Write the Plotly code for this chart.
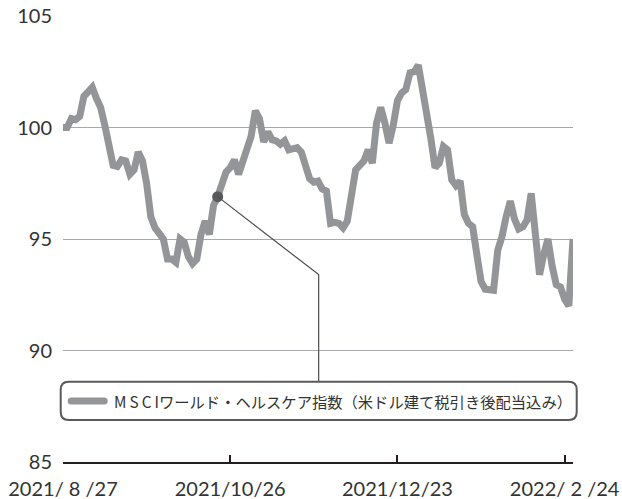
import pandas as pd
import plotly.graph_objects as go

# ---- data -------------------------------------------------------------
start_date = "2021-08-27"
end_date = "2022-02-28"
jp_holidays = ["2021-09-20", "2021-09-23", "2021-11-03", "2021-11-23",
               "2021-12-31", "2022-01-03", "2022-01-10", "2022-02-11",
               "2022-02-23"]

index_values = [
    100.0, 100.0, 100.4, 100.35, 100.5, 101.4, 101.6, 101.8, 101.3, 100.9,
    100.1, 99.2, 98.3, 98.25, 98.55, 98.5, 97.9, 98.1, 98.9, 98.5,
    97.5, 96.0, 95.5, 95.25, 95.0, 94.1, 94.1, 93.95, 95.0, 94.85,
    94.2, 93.9, 94.1, 95.2, 95.8, 95.2, 96.5, 96.9, 97.6, 98.0,
    98.2, 98.55, 97.9, 98.4, 99.0, 99.6, 100.75, 100.4, 99.35, 99.8,
    99.45, 99.4, 99.25, 99.4, 99.0, 99.05, 99.1, 98.9, 98.4, 97.7,
    97.55, 97.6, 97.25, 97.15, 95.7, 95.75, 95.7, 95.5, 95.8, 97.1,
    98.1, 98.3, 98.5, 99.0, 98.4, 100.2, 100.9, 100.2, 99.3, 100.1,
    101.2, 101.55, 101.7, 102.45, 102.5, 102.8, 101.8, 100.4, 99.5, 98.2,
    98.4, 99.15, 99.0, 97.65, 97.4, 97.6, 96.1, 95.7, 95.55, 94.3,
    93.1, 92.75, 92.7, 92.7, 94.5, 95.1, 96.0, 96.7, 95.9, 95.45,
    95.55, 95.85, 97.05, 95.5, 93.4, 94.3, 95.0, 93.8, 92.95, 92.85,
    92.3, 92.0, 95.0,
]

tick_dates = ["2021-08-27", "2021-10-26", "2021-12-23", "2022-02-24"]
tick_labels = ["2021/ 8 /27", "2021/10/26", "2021/12/23", "2022/ 2 /24"]
y_ticks = [85, 90, 95, 100, 105]

series_name = "M\u2009S\u2009C\u2009Iワールド・ヘルスケア指数（米ドル建て税引き後配当込み）"
marker_date_pos = 37

# ---- build -------------------------------------------------------------
dates = [d.strftime("%Y-%m-%d") for d in pd.bdate_range(start_date, end_date)
         if d.strftime("%Y-%m-%d") not in jp_holidays]
dates = dates[:len(index_values)]

LINE = "#939598"
DARK = "#58595b"
TXT = "#333333"
FONT = "Noto Sans CJK JP"
NUMFONT = "Lato"

fig = go.Figure()
fig.add_trace(go.Scatter(
    x=dates, y=index_values, mode="lines",
    line=dict(color=LINE, width=7, shape="linear"),
    showlegend=False, hoverinfo="skip",
))

mx = dates[marker_date_pos]
my = index_values[marker_date_pos]

shapes = []
# connector from marker to legend box
shapes.append(dict(
    type="path", xref="x", yref="y", xsizemode="pixel", ysizemode="pixel",
    xanchor=mx, yanchor=my,
    path="M 0,0 L 101,-78 L 101,-185",
    line=dict(color="#4d4d4d", width=1.2),
))

# legend rounded box (pixels relative to plot bottom-left)
x0, x1, yb, yt, r = -2.3, 513.7, 42, 80.3, 8
box = (f"M {x0+r},{yb} L {x1-r},{yb} Q {x1},{yb} {x1},{yb+r} "
       f"L {x1},{yt-r} Q {x1},{yt} {x1-r},{yt} L {x0+r},{yt} "
       f"Q {x0},{yt} {x0},{yt-r} L {x0},{yb+r} Q {x0},{yb} {x0+r},{yb} Z")
shapes.append(dict(
    type="path", xref="paper", yref="paper", xsizemode="pixel", ysizemode="pixel",
    xanchor=0, yanchor=0, path=box, fillcolor="white",
    line=dict(color=DARK, width=2), layer="above",
))
# legend sample line with round ends
lx0, lx1, ly, h = 4.7, 44.7, 61, 3.5
sample = (f"M {lx0+h},{ly-h} L {lx1-h},{ly-h} Q {lx1},{ly-h} {lx1},{ly} "
          f"Q {lx1},{ly+h} {lx1-h},{ly+h} L {lx0+h},{ly+h} "
          f"Q {lx0},{ly+h} {lx0},{ly} Q {lx0},{ly-h} {lx0+h},{ly-h} Z")
shapes.append(dict(
    type="path", xref="paper", yref="paper", xsizemode="pixel", ysizemode="pixel",
    xanchor=0, yanchor=0, path=sample, fillcolor=LINE,
    line=dict(width=0), layer="above",
))

fig.add_trace(go.Scatter(
    x=[mx], y=[my], mode="markers",
    marker=dict(color=DARK, size=11, line=dict(width=0)),
    showlegend=False, hoverinfo="skip",
))

fig.update_layout(
    width=622, height=499,
    margin=dict(l=63, r=49, t=16, b=37, autoexpand=False),
    paper_bgcolor="white", plot_bgcolor="white",
    font=dict(family=FONT, color=TXT, size=20),
    shapes=shapes,
    annotations=[dict(
        xref="paper", yref="paper", x=(112 - 63) / 510, y=61 / 446,
        xanchor="left", yanchor="middle", text=series_name, showarrow=False,
        font=dict(family=FONT, size=15.3, color=TXT),
    )],
    xaxis=dict(
        type="category", range=[0, len(index_values) - 1],
        tickmode="array", tickvals=tick_dates, ticktext=tick_labels,
        showgrid=False, zeroline=False, automargin=False,
        showline=True, linecolor="#231f20", linewidth=2,
        ticks="inside", ticklen=7, tickwidth=2, tickcolor="#231f20",
        ticklabelstandoff=8,
        tickfont=dict(family=NUMFONT, size=20, color=TXT),
    ),
    yaxis=dict(
        range=[85, 105], tickmode="array", tickvals=y_ticks,
        showgrid=True, gridcolor="#a7a9ac", gridwidth=1,
        zeroline=False, showline=False, automargin=False,
        ticks="outside", ticklen=6, tickcolor="rgba(0,0,0,0)",
        tickfont=dict(family=NUMFONT, size=20, color=TXT),
    ),
)

fig.write_html(
    "out.html",
    config={"displayModeBar": False},
    post_script="document.body.style.margin='0';document.body.style.overflow='hidden';",
)
